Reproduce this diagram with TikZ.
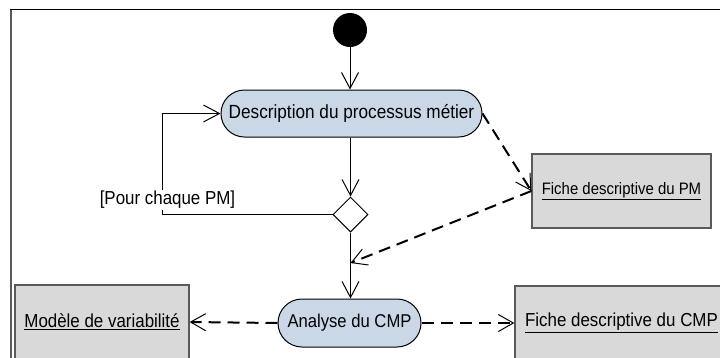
\documentclass[tikz,border=0pt]{standalone}
\usepackage{fontspec}
\setmainfont{Liberation Sans}[FakeStretch=0.9]
\usetikzlibrary{arrows.meta,shapes.geometric}
\definecolor{actfill}{HTML}{C9D7E7}
\definecolor{objfill}{HTML}{D9D9D9}
\definecolor{frameg}{HTML}{5A5A5A}
\tikzset{
  action/.style={draw=black, line width=1pt, fill=actfill, rounded corners=23.5pt, inner sep=0pt},
  objbox/.style={draw=frameg, line width=1.3pt, fill=objfill, inner sep=0pt},
  flow/.style={draw=black, line width=1pt, -{Straight Barb[length=16pt,width=17pt,line width=1pt]}},
  dataflow/.style={draw=black, line width=2pt, dash pattern=on 12pt off 7pt, -{Straight Barb[length=15pt,width=17pt,line width=1pt]}},
  txt/.style={font=\fontsize{18.8}{22}\selectfont}
}
\begin{document}
\begin{tikzpicture}[x=1pt,y=-1pt]
\useasboundingbox (0,0) rectangle (720,357);
\clip (0,0) rectangle (720,357);
% frame
\draw[frameg, line width=2pt] (11,9.5) -- (11,360);
\draw[black, line width=1.5pt] (10,9.5) -- (722,9.5);
% nodes
\node[circle, fill=black, minimum size=34pt, inner sep=0pt] (start) at (350,30) {};
\node[action, minimum width=261pt, minimum height=47pt, font=\fontsize{19.1}{22}\selectfont] (desc) at (351.5,113.5) {Description du processus métier};
\node[diamond, draw=black, line width=1pt, fill=white, minimum width=35pt, minimum height=35pt, inner sep=0pt] (dec) at (350.5,214.5) {};
\node[action, rounded corners=24pt, minimum width=143pt, minimum height=48pt, font=\fontsize{18.5}{22}\selectfont] (ana) at (349.5,323) {Analyse du CMP};
\node[objbox, minimum width=179pt, minimum height=74pt, font=\fontsize{16.6}{20}\selectfont] (fpm) at (621.5,191) {\underline{Fiche descriptive du PM}};
\node[objbox, minimum width=174pt, minimum height=74pt, txt] (mod) at (102,322) {\underline{Modèle de variabilité}};
\node[objbox, minimum width=213pt, minimum height=74pt, txt] (fcmp) at (621.5,323) {\underline{Fiche descriptive du CMP}};
\coordinate (loopc) at (162,214.5);
\coordinate (merge) at (350.5,263);
% control flows
\draw[flow] (start) -- (desc.north -| start);
\draw[flow] (desc.south -| dec) -- (dec.north);
\draw[flow] (dec.west) -- (loopc) |- (desc.west);
\node[txt, inner sep=1pt, fill=white] (lbl) at (167.5,200) {[Pour chaque PM]};
\draw[line width=1pt] (dec.south) -- (merge);
\draw[flow] (merge) -- (ana.north -| merge);
% object flows
\draw[dataflow] (desc.east) -- (fpm.west);
\draw[dataflow] (fpm.west) -- (merge);
\draw[dataflow] (ana.west) -- (mod.east);
\draw[dataflow] (ana.east) -- (fcmp.west);
\end{tikzpicture}
\end{document}
